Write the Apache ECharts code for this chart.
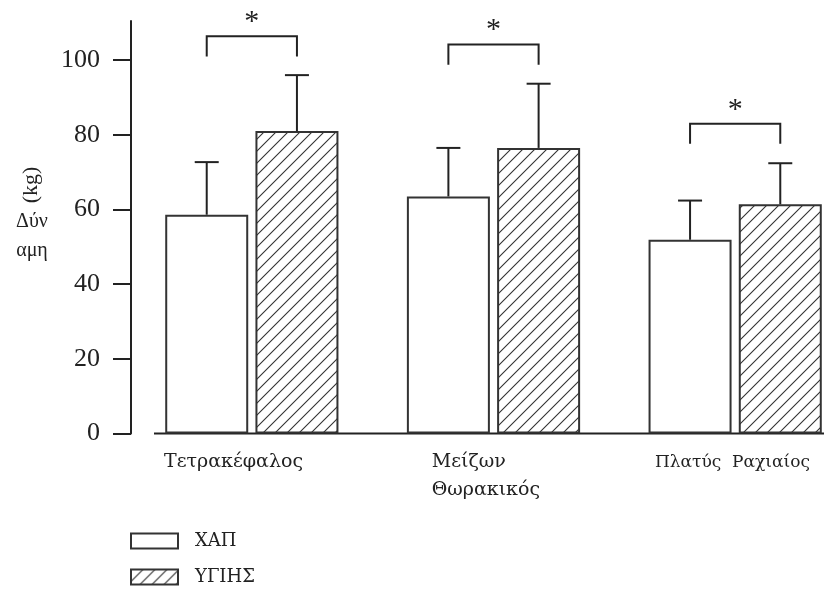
<!DOCTYPE html>
<html><head><meta charset="utf-8">
<script src="https://cdn.jsdelivr.net/npm/echarts@6/dist/echarts.min.js"></script>
<style>html,body{margin:0;padding:0;background:#fff}#c{width:824px;height:592px}</style>
</head><body><div id="c"></div>
<script>
// ---- data ----
const categories = ['Τετρακέφαλος', 'Μείζων\nΘωρακικός', 'Πλατύς  Ραχιαίος'];
const seriesNames = ['ΧΑΠ', 'ΥΓΙΗΣ'];
const hapMean = [58.6, 63.5, 51.9];
const hapSD = [14.1, 13.0, 10.5];
const healthyMean = [81.0, 76.5, 61.4];
const healthySD = [15.0, 17.2, 11.0];
const bracketTop = [106.4, 104.2, 83.0];
const bracketLegEnd = [101.0, 98.8, 77.6];
const sigMarks = ['*', '*', '*'];
const yTicks = [0, 20, 40, 60, 80, 100];
const yName = '(kg)';
const yNameLines = ['Δύν', 'αμη'];

// ---- style ----
const FONT = '"Liberation Serif", "Times New Roman", serif';
const LFONT = '"DejaVu Serif", serif';
const INK = '#222';
const BAR_W = 83;
const GAP_RATIO = 0.087;
const OFF = BAR_W * (1 + GAP_RATIO) / 2;
const LABEL_W = 170;
const labelPads = [[0, 5.6, 0, 0], [0, 0, 0, 46.4], [0, 0, 0, 9.6]];
const labelSizes = [19, 19, 17];

function hatch() {
  const s = 12, c = document.createElement('canvas');
  c.width = s; c.height = s;
  const g = c.getContext('2d');
  g.fillStyle = '#fff'; g.fillRect(0, 0, s, s);
  g.strokeStyle = '#333'; g.lineWidth = 1.1;
  g.beginPath();
  g.moveTo(-1, s + 1); g.lineTo(s + 1, -1);
  g.moveTo(-1, 1); g.lineTo(1, -1);
  g.moveTo(s - 1, s + 1); g.lineTo(s + 1, s - 1);
  g.stroke();
  return c;
}

const rich = {};
labelPads.forEach((p, i) => {
  rich['c' + i] = { width: LABEL_W, align: 'left', padding: p, fontFamily: LFONT, fontSize: labelSizes[i], lineHeight: 28, color: INK };
});

function errRenderer(sign) {
  return function (params, api) {
    const i = api.value(0);
    const p0 = api.coord([i, api.value(1)]);
    const p1 = api.coord([i, api.value(2)]);
    const x = p0[0] + sign * OFF;
    return {
      type: 'group',
      children: [
        { type: 'line', shape: { x1: x, y1: p0[1], x2: x, y2: p1[1] }, style: { stroke: INK, lineWidth: 2 } },
        { type: 'line', shape: { x1: x - 12, y1: p1[1], x2: x + 12, y2: p1[1] }, style: { stroke: INK, lineWidth: 2 } }
      ]
    };
  };
}

function bracketRenderer(params, api) {
  const i = api.value(0);
  const t = api.coord([i, api.value(1)]);
  const b = api.coord([i, api.value(2)]);
  const xL = t[0] - OFF, xR = t[0] + OFF;
  return {
    type: 'group',
    children: [
      { type: 'polyline', shape: { points: [[xL, b[1]], [xL, t[1]], [xR, t[1]], [xR, b[1]]] },
        style: { stroke: INK, lineWidth: 2, fill: null } },
      { type: 'text', x: t[0], y: t[1] - 14,
        style: { text: sigMarks[i], fontFamily: FONT, fontSize: 30, fill: INK, align: 'center', verticalAlign: 'middle' } }
    ]
  };
}

const chart = echarts.init(document.getElementById('c'), null, { renderer: 'canvas' });
const option = {
  animation: false,
  backgroundColor: '#fff',
  grid: { left: 131, width: 725, top: 21, bottom: 158.5, containLabel: false, outerBoundsMode: 'none' },
  legend: {
    data: seriesNames, orient: 'vertical', left: 130, top: 532, height: 80, padding: 0,
    itemWidth: 47, itemHeight: 15, itemGap: 18, icon: 'rect',
    formatter: '{t|{name}}',
    textStyle: { fontFamily: LFONT, fontSize: 18, color: INK, rich: { t: { fontFamily: LFONT, fontSize: 18, color: INK, padding: [0, 0, 0, 12], lineHeight: 15 } } }
  },
  xAxis: {
    type: 'category', data: categories,
    axisLine: { show: false }, axisTick: { show: false },
    axisLabel: {
      interval: 0, margin: 15, align: 'center',
      formatter: (v, idx) => v.split('\n').map(l => '{c' + idx + '|' + l + '}').join('\n'),
      rich: rich
    }
  },
  yAxis: {
    type: 'value', min: 0, max: 110.5, interval: 20,
    splitLine: { show: false },
    axisLine: { show: true, lineStyle: { color: INK, width: 2 } },
    axisTick: { show: true, inside: false, length: 18, lineStyle: { color: INK, width: 2 }, customValues: yTicks },
    axisLabel: { margin: 31, fontFamily: FONT, fontSize: 26, color: INK, customValues: yTicks }
  },
  series: [
    { name: seriesNames[0], type: 'bar', data: hapMean, barWidth: BAR_W, barGap: (GAP_RATIO * 100) + '%',
      itemStyle: { color: '#fff', borderColor: '#333', borderWidth: 2 } },
    { name: seriesNames[1], type: 'bar', data: healthyMean, barWidth: BAR_W,
      itemStyle: { color: { image: hatch(), repeat: 'repeat' }, borderColor: '#333', borderWidth: 2 } },
    { type: 'custom', name: 'errHap', clip: false, encode: { x: 0, y: [1, 2] },
      data: hapMean.map((m, i) => [i, m, m + hapSD[i]]), renderItem: errRenderer(-1), z: 3 },
    { type: 'custom', name: 'errHealthy', clip: false, encode: { x: 0, y: [1, 2] },
      data: healthyMean.map((m, i) => [i, m, m + healthySD[i]]), renderItem: errRenderer(1), z: 3 },
    { type: 'custom', name: 'sig', clip: false, encode: { x: 0, y: [1, 2] },
      data: bracketTop.map((t, i) => [i, t, bracketLegEnd[i]]), renderItem: bracketRenderer, z: 3 }
  ]
};
chart.setOption(option);

const y0 = chart.convertToPixel({ yAxisIndex: 0 }, 0);
chart.setOption({
  graphic: {
    elements: [
      { type: 'line', shape: { x1: 154, y1: y0, x2: 824, y2: y0 }, style: { stroke: INK, lineWidth: 2 } },
      { type: 'text', x: 31, y: 185, rotation: Math.PI / 2,
        style: { text: yName, fontFamily: FONT, fontSize: 22, fill: INK, align: 'center', verticalAlign: 'middle' } },
      { type: 'text', x: 32, y: 222,
        style: { text: yNameLines[0], fontFamily: FONT, fontSize: 20, fill: INK, align: 'center', verticalAlign: 'middle' } },
      { type: 'text', x: 32, y: 251,
        style: { text: yNameLines[1], fontFamily: FONT, fontSize: 20, fill: INK, align: 'center', verticalAlign: 'middle' } }
    ]
  }
});
</script>
</body></html>
